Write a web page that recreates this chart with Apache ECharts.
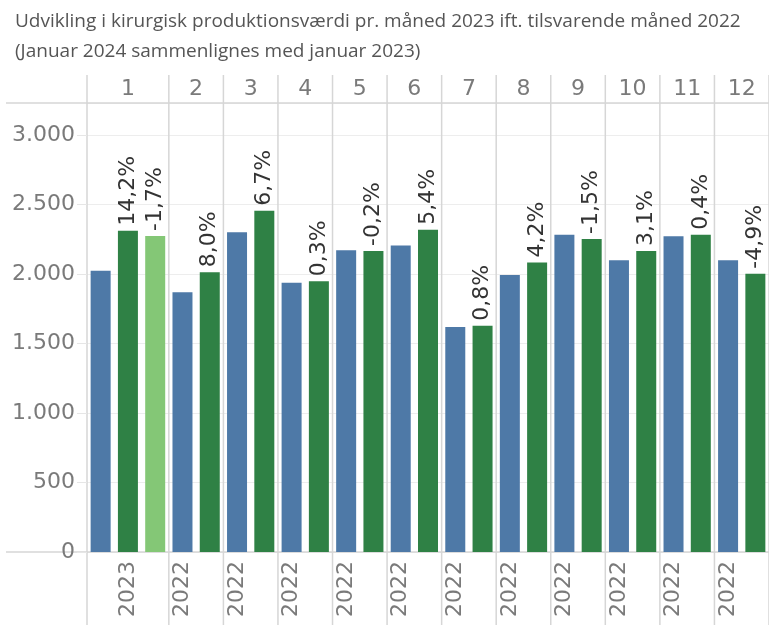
<!DOCTYPE html>
<html>
<head>
<meta charset="utf-8">
<script src="https://cdn.jsdelivr.net/npm/echarts@6/dist/echarts.min.js"></script>
<style>
  html, body { margin: 0; padding: 0; background: #fff; }
  #main { width: 769px; height: 625px; }
</style>
</head>
<body>
<div id="main"></div>
<script>
// data
var months = ['1', '2', '3', '4', '5', '6', '7', '8', '9', '10', '11', '12'];
var val2022 = [2024, 1868, 2300, 1937, 2170, 2204, 1619, 1993, 2283, 2098, 2271, 2098];
var val2023 = [2311, 2012, 2455, 1947, 2165, 2319, 1628, 2082, 2252, 2165, 2283, 2002];
var val2024 = [2273];   // kun januar
var pct2023 = ['14,2%', '8,0%', '6,7%', '0,3%', '-0,2%', '5,4%', '0,8%', '4,2%', '-1,5%', '3,1%', '0,4%', '-4,9%'];
var pct2024 = ['-1,7%'];
var yearLabels = ['2023', '2022', '2022', '2022', '2022', '2022', '2022', '2022', '2022', '2022', '2022', '2022'];
var yearLabelSlot = [1, 0, 0, 0, 0, 0, 0, 0, 0, 0, 0, 0];

var COLORS = { y2022: '#4e79a7', y2023: '#2f8145', y2024: '#84c776' };
var TXT = '#7a7a7a';
var LINE = '#d6d6d6';
var FONT = 'DejaVu Sans';

// build one slot per bar
var slots = [], barData = [], bounds = [0], showLabelAt = {};
months.forEach(function (m, i) {
  var start = slots.length;
  var items = [[val2022[i], COLORS.y2022, null], [val2023[i], COLORS.y2023, pct2023[i]]];
  if (val2024[i] != null) items.push([val2024[i], COLORS.y2024, pct2024[i]]);
  items.forEach(function (it, k) {
    slots.push(m + '-' + k);
    barData.push({
      value: it[0],
      itemStyle: { color: it[1] },
      label: { show: it[2] != null, formatter: it[2] || '' }
    });
  });
  showLabelAt[start + yearLabelSlot[i]] = yearLabels[i];
  bounds.push(slots.length);
});

var chart = echarts.init(document.getElementById('main'));
var option = {
  animation: false,
  title: {
    text: 'Udvikling i kirurgisk produktionsværdi pr. måned 2023 ift. tilsvarende måned 2022',
    subtext: '(Januar 2024 sammenlignes med januar 2023)',
    left: 10, top: 7, itemGap: 11,
    textStyle: { fontFamily: 'Open Sans', fontSize: 19, fontWeight: 'normal', color: '#555' },
    subtextStyle: { fontFamily: 'Open Sans', fontSize: 19, color: '#555' }
  },
  grid: { left: 87, top: 103, width: 685, height: 449 },
  xAxis: [{
    type: 'category',
    data: slots,
    axisLine: { show: false },
    axisTick: { show: false },
    axisLabel: {
      rotate: 90, margin: 9,
      interval: function (idx) { return showLabelAt[idx] != null; },
      formatter: function (v, idx) { return showLabelAt[idx] || ''; },
      fontFamily: FONT, fontSize: 22, color: TXT
    }
  }, {
    type: 'value', min: 0, max: slots.length, show: false
  }],
  yAxis: {
    type: 'value', min: 0, max: 3230, interval: 500,
    axisLine: { show: false },
    axisTick: { show: true, length: 10, lineStyle: { color: '#e6e6e6' } },
    axisLabel: {
      showMaxLabel: false, margin: 12,
      fontFamily: FONT, fontSize: 22, color: TXT,
      formatter: function (v) { return String(v).replace(/\B(?=(\d{3})+(?!\d))/g, '.'); }
    },
    splitLine: { lineStyle: { color: '#ededed' } }
  },
  series: [{
    type: 'bar',
    barWidth: 20,
    data: barData,
    label: {
      position: 'top', rotate: 90, align: 'left', verticalAlign: 'middle', distance: 5,
      fontFamily: FONT, fontSize: 22, color: '#333'
    }
  }]
};
chart.setOption(option);

// pane separators, header line, baseline and month headers placed from the axis scale
var px = function (v) { return chart.convertToPixel({ xAxisIndex: 1 }, v); };
var yTop = chart.convertToPixel({ yAxisIndex: 0 }, 3230);
var yZero = chart.convertToPixel({ yAxisIndex: 0 }, 0);
var g = [];
bounds.forEach(function (b) {
  g.push({ type: 'line', shape: { x1: px(b), y1: 75, x2: px(b), y2: 625 }, style: { stroke: LINE, lineWidth: 1.5 } });
});
g.push({ type: 'line', shape: { x1: 6, y1: yTop, x2: 769, y2: yTop }, style: { stroke: LINE, lineWidth: 1.5 } });
g.push({ type: 'line', shape: { x1: 6, y1: yZero, x2: 769, y2: yZero }, style: { stroke: LINE, lineWidth: 1.5 } });
months.forEach(function (m, i) {
  g.push({
    type: 'text', x: px((bounds[i] + bounds[i + 1]) / 2), y: 89,
    style: { text: m, align: 'center', verticalAlign: 'middle', font: '22px "DejaVu Sans"', fill: TXT }
  });
});
chart.setOption({ graphic: g });
</script>
</body>
</html>
